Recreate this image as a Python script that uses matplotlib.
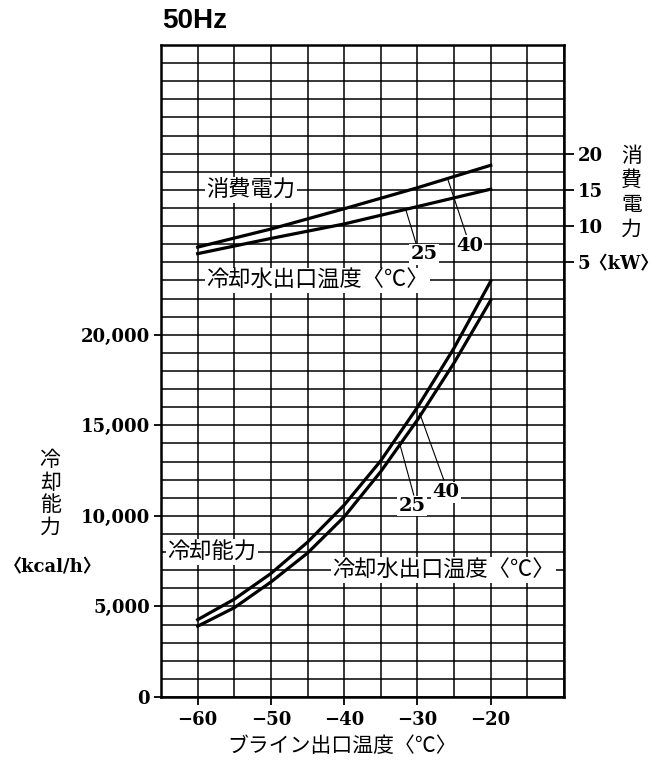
import numpy as np
import matplotlib
matplotlib.use("Agg")
import matplotlib.pyplot as plt
from matplotlib.ticker import MultipleLocator, FixedLocator

plt.rcParams['font.family'] = ['Noto Sans CJK JP', 'DejaVu Sans']

# brine outlet temperature
temp_cap = [-60, -55, -50, -45, -40, -35, -30, -25, -20]
cap_25 = [4270, 5400, 6820, 8550, 10600, 13050, 16000, 19270, 22960]
cap_40 = [3910, 4930, 6350, 7950, 9950, 12450, 15300, 18450, 21910]

temp_pow = [-60, -50, -40, -30, -20]
pow_25 = [6.2, 8.3, 10.3, 12.7, 15.1]
pow_40 = [7.1, 9.6, 12.4, 15.3, 18.4]

x_ticks = [-60, -50, -40, -30, -20]
x_labels = ["−60", "−50", "−40", "−30", "−20"]
cap_ticks = [0, 5000, 10000, 15000, 20000]
cap_labels = ["0", "5,000", "10,000", "15,000", "20,000"]
pow_ticks = [5, 10, 15, 20]
pow_labels = ["5〈kW〉", "10", "15", "20"]

num_font = ['DejaVu Serif', 'Noto Sans CJK JP']
box = dict(facecolor='white', edgecolor='none', pad=1)

fig = plt.figure(figsize=(6.6, 7.63), dpi=100)
ax = fig.add_axes([0.244, 0.0865, 0.6105, 0.8545])

ax.set_xlim(-65, -10)
ax.set_ylim(0, 36000)
ax.xaxis.set_major_locator(FixedLocator(x_ticks))
ax.xaxis.set_minor_locator(MultipleLocator(5))
ax.yaxis.set_major_locator(FixedLocator(cap_ticks))
ax.yaxis.set_minor_locator(MultipleLocator(1000))
ax.set_xticklabels(x_labels, family=num_font, weight='bold', fontsize=13)
ax.set_yticklabels(cap_labels, family=num_font, weight='bold', fontsize=13)
ax.grid(which='both', color='black', lw=1.1)
ax.set_axisbelow(True)
ax.tick_params(which='major', direction='out', length=5, width=1.3, pad=3)
ax.tick_params(axis='x', which='major', length=6, pad=4)
ax.tick_params(which='minor', length=0)
for s in ax.spines.values():
    s.set_linewidth(1.8)

ax.plot(temp_cap, cap_25, color='black', lw=2.3, zorder=3, solid_joinstyle='round')
ax.plot(temp_cap, cap_40, color='black', lw=2.3, zorder=3, solid_joinstyle='round')

ax2 = ax.twinx()
ax2.set_ylim(-55, 35)
ax2.yaxis.set_major_locator(FixedLocator(pow_ticks))
ax2.set_yticklabels(pow_labels, family=num_font, weight='bold', fontsize=13)
ax2.tick_params(direction='out', length=7, width=1.3, pad=3)
for s in ax2.spines.values():
    s.set_visible(False)

ax2.plot(temp_pow, pow_25, color='black', lw=2.3, zorder=3)
ax2.plot(temp_pow, pow_40, color='black', lw=2.3, zorder=3)

# power annotations (kW coordinates)
ax2.text(-58.8, 15, "消費電力", fontsize=16, va='center', ha='left', bbox=box, zorder=5)
ax2.text(-58.8, 2.5, "冷却水出口温度〈℃〉", fontsize=16, va='center', ha='left', bbox=box, zorder=5)
ax2.plot([-30.1, -31.6], [7.3, 12.3], color='black', lw=0.8)
ax2.plot([-23.2, -25.9], [8.4, 16.6], color='black', lw=0.8)
ax2.text(-29.1, 6.1, "25", family=num_font, weight='bold', fontsize=14, ha='center', va='center', bbox=box, zorder=5)
ax2.text(-22.9, 7.3, "40", family=num_font, weight='bold', fontsize=14, ha='center', va='center', bbox=box, zorder=5)

# capacity annotations (kW axis is linear in kcal: kW = 5 + (kcal - 24000)/400)
def k2w(v):
    return 5 + (v - 24000) / 400

ax2.text(-64.1, k2w(8000), "冷却能力", fontsize=16, va='center', ha='left', bbox=box, zorder=5)
ax2.text(-41.6, k2w(7000), "冷却水出口温度〈℃〉", fontsize=16, va='center', ha='left', bbox=box, zorder=5)
ax2.plot([-30.5, -32.5], [k2w(11150), k2w(14100)], color='black', lw=0.8)
ax2.plot([-26.4, -29.7], [k2w(11980), k2w(15670)], color='black', lw=0.8)
ax2.text(-30.7, k2w(10550), "25", family=num_font, weight='bold', fontsize=14, ha='center', va='center', bbox=box, zorder=5)
ax2.text(-26.1, k2w(11300), "40", family=num_font, weight='bold', fontsize=14, ha='center', va='center', bbox=box, zorder=5)

fig.text(0.245, 0.972, "50Hz", family='Liberation Sans', weight='bold', fontsize=20, va='center', ha='left')
fig.text(0.076, 0.3526, "冷\n却\n能\n力", fontsize=15, ha='center', va='center', linespacing=1.05)
fig.text(0.080, 0.257, "〈kcal/h〉", family=num_font, weight='bold', fontsize=13, ha='center', va='center')
fig.text(0.957, 0.7477, "消\n費\n電\n力", fontsize=15, ha='center', va='center', linespacing=1.15)
fig.text(0.518, 0.0223, "ブライン出口温度〈℃〉", fontsize=15, ha='center', va='center')

fig.savefig("out.png", dpi=100)
